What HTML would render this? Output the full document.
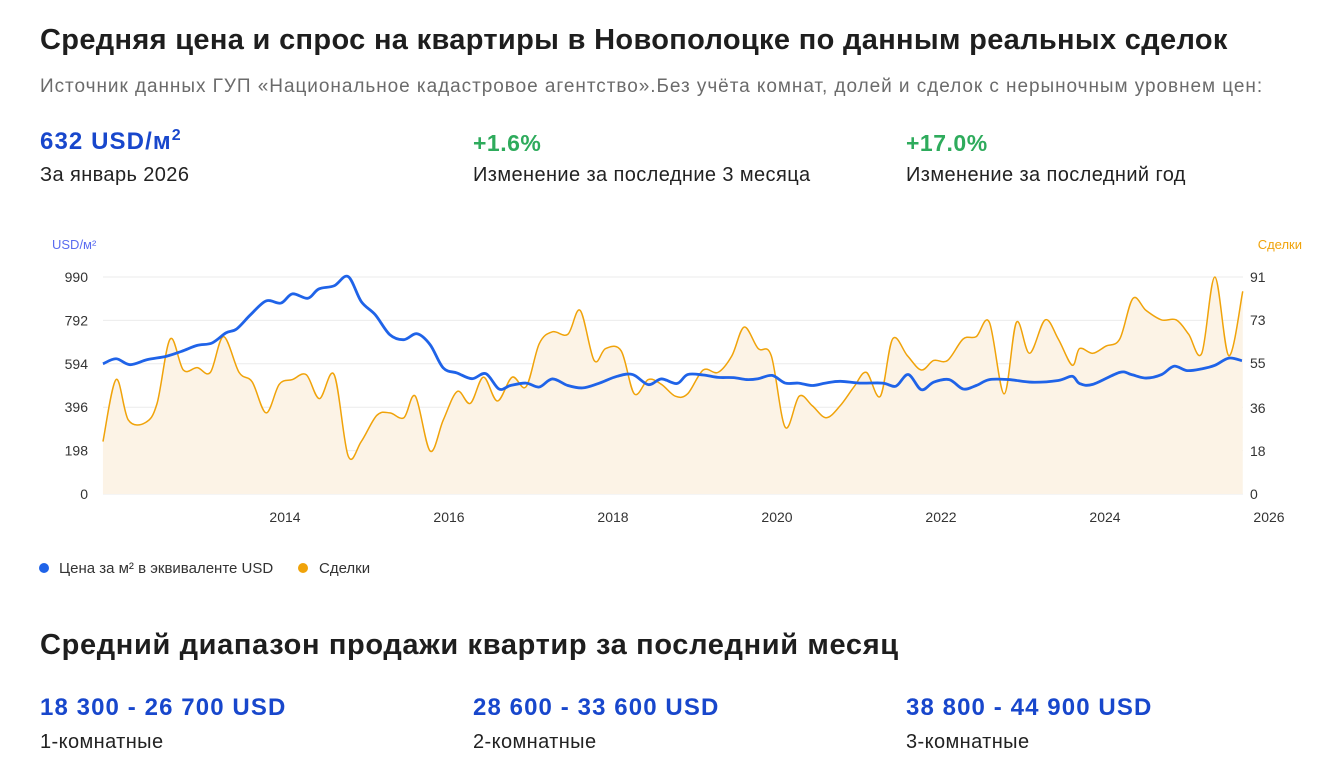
<!DOCTYPE html>
<html><head><meta charset="utf-8">
<style>
body{margin:0;width:1328px;height:769px;background:#fff;font-family:"Liberation Sans","DejaVu Sans",sans-serif;color:#222;position:relative;overflow:hidden}
.a{position:absolute;white-space:nowrap}
.h1{font-size:29px;font-weight:bold;color:#1e1e1e}
.sub{font-size:19px;color:#6b6b6b;letter-spacing:0.95px}
.big{font-size:24px;font-weight:bold;color:#1847cc;letter-spacing:1.1px}
.grn{font-size:23px;font-weight:bold;color:#2eab5c;letter-spacing:0.5px}
.lbl{font-size:20px;color:#222;letter-spacing:0.4px}
</style></head><body>
<div class="a h1" style="left:40px;top:24px;letter-spacing:0.33px">Средняя цена и спрос на квартиры в Новополоцке по данным реальных сделок</div>
<div class="a sub" style="left:40px;top:76px">Источник данных ГУП «Национальное кадастровое агентство».Без учёта комнат, долей и сделок с нерыночным уровнем цен:</div>
<div class="a big" style="left:40px;top:127px">632 USD/м<sup style="font-size:16px">2</sup></div>
<div class="a lbl" style="left:40px;top:164px">За январь 2026</div>
<div class="a grn" style="left:473px;top:130px">+1.6%</div>
<div class="a lbl" style="left:473px;top:164px">Изменение за последние 3 месяца</div>
<div class="a grn" style="left:906px;top:130px">+17.0%</div>
<div class="a lbl" style="left:906px;top:164px">Изменение за последний год</div>

<svg class="a" id="chart" style="left:0;top:0" width="1328" height="600"></svg>

<div class="a h1" style="left:40px;top:629px;letter-spacing:0.65px">Средний диапазон продажи квартир за последний месяц</div>
<div class="a big" style="left:40px;top:694px">18 300 - 26 700 USD</div>
<div class="a lbl" style="left:40px;top:731px">1-комнатные</div>
<div class="a big" style="left:473px;top:694px">28 600 - 33 600 USD</div>
<div class="a lbl" style="left:473px;top:731px">2-комнатные</div>
<div class="a big" style="left:906px;top:694px">38 800 - 44 900 USD</div>
<div class="a lbl" style="left:906px;top:731px">3-комнатные</div>

<script>
const priceDates=[2011.78,2011.94,2012.11,2012.32,2012.55,2012.74,2012.93,2013.11,2013.28,2013.41,2013.58,2013.77,2013.95,2014.09,2014.28,2014.41,2014.60,2014.77,2014.93,2015.10,2015.28,2015.45,2015.61,2015.77,2015.93,2016.10,2016.28,2016.45,2016.61,2016.75,2016.94,2017.10,2017.26,2017.45,2017.63,2017.82,2018.05,2018.24,2018.43,2018.59,2018.78,2018.91,2019.10,2019.28,2019.47,2019.63,2019.77,2019.94,2020.10,2020.26,2020.43,2020.59,2020.77,2021.01,2021.29,2021.45,2021.60,2021.76,2021.91,2022.10,2022.27,2022.43,2022.59,2022.83,2023.11,2023.43,2023.60,2023.69,2023.85,2024.18,2024.32,2024.50,2024.69,2024.84,2025.00,2025.18,2025.34,2025.51,2025.67];
const priceValues=[594,617,590,613,628,651,678,689,735,753,818,881,871,913,893,935,950,992,878,818,726,704,731,681,575,552,526,549,479,495,506,488,525,495,484,504,537,545,499,525,504,545,543,532,531,522,526,541,506,506,495,506,514,506,506,492,545,476,510,522,479,495,522,522,510,518,537,504,500,555,545,529,545,583,563,571,587,620,608];
const dealDates=[2011.78,2011.94,2012.09,2012.30,2012.44,2012.60,2012.76,2012.93,2013.09,2013.25,2013.44,2013.60,2013.77,2013.93,2014.09,2014.26,2014.42,2014.60,2014.77,2014.93,2015.12,2015.28,2015.45,2015.59,2015.77,2015.93,2016.10,2016.26,2016.42,2016.59,2016.77,2016.94,2017.10,2017.26,2017.45,2017.60,2017.77,2017.91,2018.10,2018.26,2018.43,2018.59,2018.76,2018.91,2019.10,2019.28,2019.45,2019.60,2019.77,2019.93,2020.10,2020.27,2020.43,2020.60,2020.77,2020.94,2021.09,2021.26,2021.41,2021.59,2021.76,2021.91,2022.08,2022.27,2022.43,2022.59,2022.77,2022.92,2023.08,2023.27,2023.43,2023.60,2023.69,2023.85,2024.01,2024.18,2024.34,2024.50,2024.69,2024.87,2025.02,2025.18,2025.34,2025.51,2025.68];
const dealValues=[22,48,31,30,38,65,52,53,51,66,51,47,34,46,48,50,40,50,16,22,33,34,32,41,18,31,43,38,49,39,49,45,63,68,67,77,56,61,60,42,48,46,41,42,52,51,58,70,61,58,28,41,37,32,37,45,51,41,65,58,52,56,56,65,66,72,42,72,59,73,65,54,61,59,62,65,82,77,73,73,67,59,91,58,85];
const leftTicks=[0,198,396,594,792,990];
const rightTicks=[0,18,36,55,73,91];
const xTicks=[2014,2016,2018,2020,2022,2024,2026];

const svg=document.getElementById('chart');
const NS='http://www.w3.org/2000/svg';
const X0=103,X1=1243,Y0=494,Y1=277;
const x=t=>285+(t-2014)*82;
const yL=v=>Y0-(v/990)*(Y0-Y1);
const yR=v=>Y0-(v/91)*(Y0-Y1);
function mk(tag,attrs){const e=document.createElementNS(NS,tag);for(const k in attrs)e.setAttribute(k,attrs[k]);svg.appendChild(e);return e;}
function txt(s,attrs){const e=mk('text',attrs);e.textContent=s;return e;}
function smooth(pts){let d='M'+pts[0][0]+','+pts[0][1];for(let i=0;i<pts.length-1;i++){const p0=pts[Math.max(0,i-1)],p1=pts[i],p2=pts[i+1],p3=pts[Math.min(pts.length-1,i+2)];const c1=[p1[0]+(p2[0]-p0[0])/6,p1[1]+(p2[1]-p0[1])/6],c2=[p2[0]-(p3[0]-p1[0])/6,p2[1]-(p3[1]-p1[1])/6];d+=' C'+c1[0]+','+c1[1]+' '+c2[0]+','+c2[1]+' '+p2[0]+','+p2[1];}return d;}

leftTicks.forEach((v,i)=>{
  const g=mk('line',{x1:X0,x2:X1,y1:yL(v),y2:yL(v),stroke:'#ebebeb','stroke-width':1});
  
  
  const t=txt(String(v),{x:88,y:yL(v)+5,'text-anchor':'end','font-size':14,fill:'#333'});
  
  
});
rightTicks.forEach(v=>{
  const t=txt(String(v),{x:1250,y:yR(v)+5,'font-size':14,fill:'#333'});
  
  
});
xTicks.forEach(v=>{
  const t=txt(String(v),{x:x(v),y:522,'text-anchor':'middle','font-size':14,fill:'#333'});
  
  
});
const ya=txt('USD/м²',{x:52,y:249,'font-size':13,fill:'#5a6cf0'});


const yb=txt('Сделки',{x:1302,y:249,'text-anchor':'end','font-size':13,fill:'#f0a30a'});



const dp=dealDates.map((t,i)=>[x(t),yR(dealValues[i])]);
const dd=smooth(dp);
const area=mk('path',{d:dd+' L'+dp[dp.length-1][0]+','+Y0+' L'+dp[0][0]+','+Y0+' Z',fill:'#fcf3e6',stroke:'none'});


const dl=mk('path',{d:dd,fill:'none',stroke:'#f0a30a','stroke-width':1.5});


const pp=priceDates.map((t,i)=>[x(t),yL(priceValues[i])]);
const pl=mk('path',{d:smooth(pp),fill:'none',stroke:'#1f63e8','stroke-width':2.8,'stroke-linejoin':'round'});



const c1=mk('circle',{cx:44,cy:568,r:5,fill:'#1f63e8'});


const l1=txt('Цена за м² в эквиваленте USD',{x:59,y:573,'font-size':15,fill:'#333'});


const c2=mk('circle',{cx:303,cy:568,r:5,fill:'#f0a30a'});


const l2=txt('Сделки',{x:319,y:573,'font-size':15,fill:'#333'});


</script>
</body></html>
